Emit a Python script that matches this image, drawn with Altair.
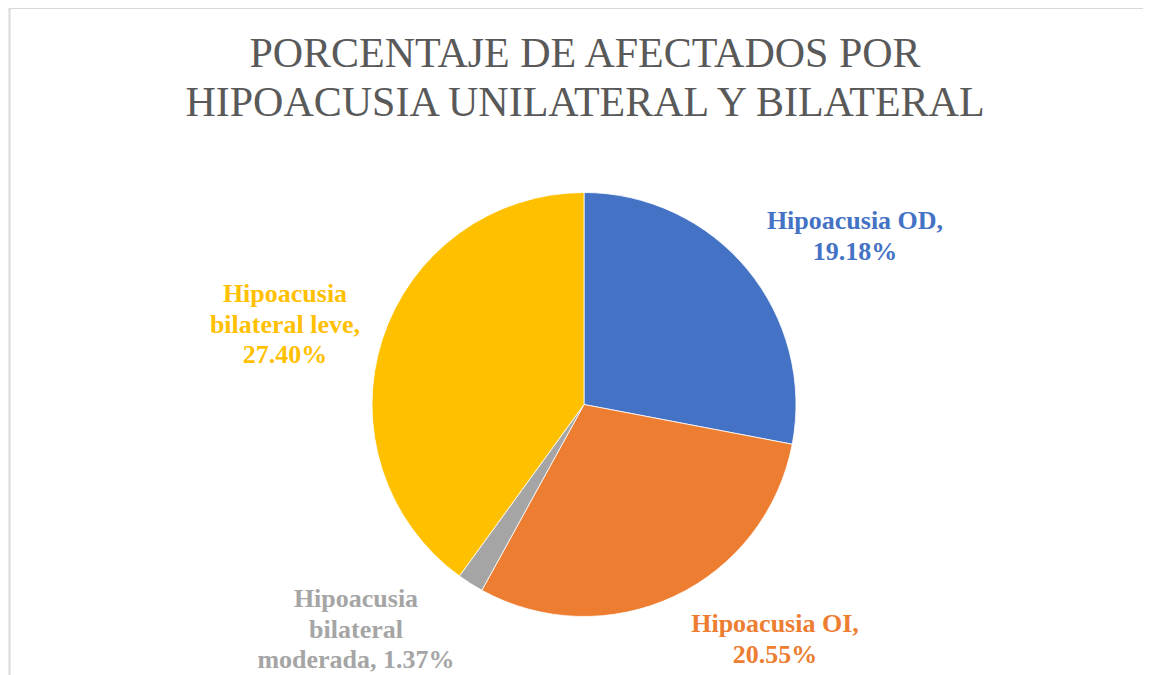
import altair as alt
import pandas as pd

# Data
categories = ["Hipoacusia OD", "Hipoacusia OI", "Hipoacusia bilateral moderada", "Hipoacusia bilateral leve"]
values = [19.18, 20.55, 1.37, 27.40]
label_lines = [
    ["Hipoacusia OD,", "19.18%"],
    ["Hipoacusia OI,", "20.55%"],
    ["Hipoacusia", "bilateral", "moderada, 1.37%"],
    ["Hipoacusia", "bilateral leve,", "27.40%"],
]
colors = ["#4472C4", "#ED7D31", "#A5A5A5", "#FFC000"]
title_lines = ["PORCENTAJE DE AFECTADOS POR", "HIPOACUSIA UNILATERAL Y BILATERAL"]

SERIF = "Times New Roman"

# Layout (pixel positions within the chart)
W, H = 1135, 667
CX, CY, R = 576, 396.5, 212
label_pos = [(847, 221), (767, 624), (348, 599), (277, 294)]
LABEL_LH = 30.5
TITLE_POS, TITLE_LH = (577, 59), 49

df = pd.DataFrame({"cat": categories, "val": values, "order": list(range(len(categories)))})

color_scale = alt.Scale(domain=categories, range=colors)

pie = alt.Chart(df).mark_arc(radius=R, stroke="white", strokeWidth=0.8).encode(
    theta=alt.Theta("val:Q", stack=True),
    order=alt.Order("order:Q"),
    color=alt.Color("cat:N", scale=color_scale, legend=None),
    x=alt.value(CX),
    y=alt.value(CY),
)

layers = [pie]
for i, cat in enumerate(categories):
    lx, ly = label_pos[i]
    for k, line in enumerate(label_lines[i]):
        t = alt.Chart(df).transform_filter(alt.datum.cat == cat).mark_text(
            font=SERIF, fontWeight="bold", fontSize=26,
            align="center", baseline="alphabetic",
            color=colors[i],
        ).encode(
            text=alt.value(line),
            x=alt.value(lx),
            y=alt.value(ly + k * LABEL_LH),
        )
        layers.append(t)

for k, line in enumerate(title_lines):
    title = alt.Chart(df).transform_filter(alt.datum.order == 0).mark_text(
        font=SERIF, fontSize=42, align="center", baseline="alphabetic",
        color="#595959",
    ).encode(text=alt.value(line), x=alt.value(TITLE_POS[0]), y=alt.value(TITLE_POS[1] + k * TITLE_LH))
    layers.append(title)

border_top = alt.Chart(df).transform_filter(alt.datum.order == 0).mark_rule(
    color="#d9d9d9", strokeWidth=2
).encode(x=alt.value(1), x2=alt.value(W), y=alt.value(0))
border_left = alt.Chart(df).transform_filter(alt.datum.order == 0).mark_rule(
    color="#d9d9d9", strokeWidth=2
).encode(x=alt.value(1.5), y=alt.value(0), y2=alt.value(H))
layers += [border_top, border_left]

chart = alt.layer(*layers).properties(
    width=W, height=H, autosize=alt.AutoSizeParams(type="none"), padding=0,
    background="white",
).configure_view(stroke=None)

chart.save("out.html", embed_options={"renderer": "svg", "actions": False})
